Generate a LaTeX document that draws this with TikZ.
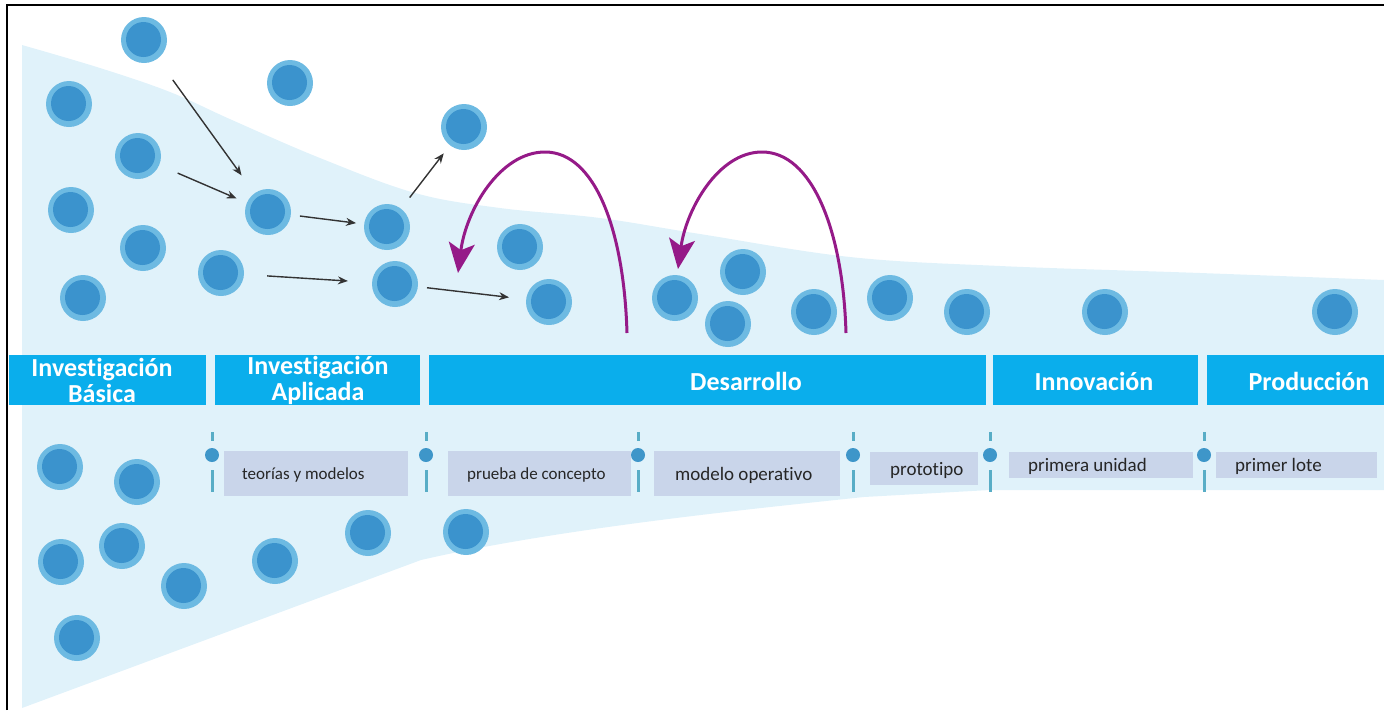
\documentclass[tikz,border=0pt]{standalone}
\usepackage{fontspec}
\setmainfont[Ligatures={NoCommon}]{Carlito}
\usetikzlibrary{arrows.meta}
\definecolor{funnelc}{HTML}{E0F2FA}
\definecolor{bandc}{HTML}{0AAEEC}
\definecolor{subc}{HTML}{C9D5EA}
\definecolor{ballout}{HTML}{6DBAE2}
\definecolor{ballin}{HTML}{3B93CD}
\definecolor{mdotc}{HTML}{3E96C9}
\definecolor{mdashc}{HTML}{58ADC6}
\definecolor{purp}{HTML}{951A88}
\definecolor{arrc}{HTML}{333333}
\begin{document}
\begin{tikzpicture}[x=1pt,y=-1pt,
  ball/.style={circle,minimum size=46pt,inner sep=0pt,fill=ballout,
    path picture={\fill[ballin] ([xshift=-0.5pt,yshift=0.5pt]path picture bounding box.center) circle (17.5pt);}},
  band/.style={rectangle,fill=bandc,inner sep=0pt,minimum height=50pt},
  bandtxt/.style={text=white,font=\fontsize{26}{26}\selectfont\bfseries,align=center,inner sep=0pt},
  subbox/.style={rectangle,fill=subc,inner sep=0pt},
  subtxt/.style={text=black!85,font=\fontsize{19}{21}\selectfont,anchor=west,inner sep=0pt},
  subtxts/.style={subtxt,font=\fontsize{17}{19}\selectfont},
  mdot/.style={circle,fill=mdotc,minimum size=14pt,inner sep=0pt},
  mdash/.style={draw=mdashc,line width=3pt},
  blk/.style={draw=arrc,line width=1.4pt,-{Stealth[length=10pt,width=8pt]}},
  purpa/.style={draw=purp,line width=3pt,-{Stealth[length=30pt,width=26pt,inset=7pt]}}
]
\useasboundingbox (0,0) rectangle (1384,710);
% funnel
\fill[funnelc] plot[smooth,tension=0.6] coordinates {(22,45) (100,68) (170,92) (232,120) (320,158) (415,193) (500,208) (600,218) (700,234) (850,257) (1000,266) (1200,273) (1384,280)}
  -- (1384,490) -- (990,490) -- (864,497)
  .. controls (760,508) and (560,528) .. (421,560) -- (22,708) -- cycle;
% frame
\draw[black,line width=2.5pt] (7,710) -- (7,5) -- (1384,5);
% balls top
\node[ball] (b1) at (144,40) {};
\node[ball] (b2) at (290,83) {};
\node[ball] (b3) at (69,104) {};
\node[ball] (b4) at (138,156) {};
\node[ball] (b5) at (464,127) {};
\node[ball] (b6) at (71,210) {};
\node[ball] (b7) at (268,212) {};
\node[ball] (b8) at (387,227) {};
\node[ball] (b9) at (143,248) {};
\node[ball] (b10) at (221,273) {};
\node[ball] (b11) at (83,298) {};
\node[ball] (b12) at (395,284) {};
\node[ball] (b13) at (520,247) {};
\node[ball] (b14) at (549,302) {};
\node[ball] (b15) at (675,298) {};
\node[ball] (b16) at (743,272) {};
\node[ball] (b17) at (728,324) {};
\node[ball] (b18) at (814,312) {};
\node[ball] (b19) at (890,298) {};
\node[ball] (b20) at (967,312) {};
\node[ball] (b21) at (1105,312) {};
\node[ball] (b22) at (1335,312) {};
% balls bottom
\node[ball] (c1) at (60,467) {};
\node[ball] (c2) at (137,482) {};
\node[ball] (c3) at (122,546) {};
\node[ball] (c4) at (61,562) {};
\node[ball] (c5) at (184,586) {};
\node[ball] (c6) at (275,561) {};
\node[ball] (c7) at (368,533) {};
\node[ball] (c8) at (466,532) {};
\node[ball] (c9) at (77,638) {};
% bands
\node[band,minimum width=197pt] (s1) at (107.5,380) {};
\node[band,minimum width=205pt] (s2) at (317.5,380) {};
\node[band,minimum width=557pt] (s3) at (707.5,380) {};
\node[band,minimum width=205pt] (s4) at (1095.5,380) {};
\node[band,minimum width=204pt] (s5) at (1309,380) {};
\node[bandtxt] (t1) at (102,380) {Investigación\\Básica};
\node[bandtxt] (t2) at (318,380) {Investigación\\Aplicada};
\node[bandtxt] (t3) at (746,381) {Desarrollo};
\node[bandtxt] (t4) at (1094,381) {Innovación};
\node[bandtxt] (t5) at (1309,381) {Producción};
% sub boxes
\node[subbox,minimum width=184pt,minimum height=45pt] (u1) at (316,473.5) {};
\node[subbox,minimum width=183pt,minimum height=45pt] (u2) at (539.5,473.5) {};
\node[subbox,minimum width=186pt,minimum height=45pt] (u3) at (747,473.5) {};
\node[subbox,minimum width=108pt,minimum height=33pt] (u4) at (924,468.5) {};
\node[subbox,minimum width=184pt,minimum height=26pt] (u5) at (1101,465) {};
\node[subbox,minimum width=161pt,minimum height=26pt] (u6) at (1296.5,465) {};
\node[subtxts] (l1) at (242,475) {teorías y modelos};
\node[subtxts] (l2) at (467,475) {prueba de concepto};
\node[subtxt] (l3) at (675,475) {modelo operativo};
\node[subtxt] (l4) at (890,470) {prototipo};
\node[subtxt] (l5) at (1028,466) {primera unidad};
\node[subtxt] (l6) at (1235,466) {primer lote};
% markers
\foreach \i/\x in {1/212,2/426,3/638,4/853,5/990,6/1204}{
  \node[mdot] (m\i) at (\x,455) {};
  \draw[mdash] (\x,432) -- (\x,441);
  \draw[mdash] (\x,470) -- (\x,492);
}
% black arrows
\draw[blk,shorten <=26pt,shorten >=22pt] (b1) -- (b7);
\draw[blk,shorten <=20pt,shorten >=11pt] (b4) -- (b7);
\draw[blk,shorten <=9pt,shorten >=8pt] (b7) -- (b8);
\draw[blk,shorten <=23pt,shorten >=24pt] (b10) -- (b12);
\draw[blk,shorten <=14pt,shorten >=10pt] (b8) -- (b5);
\draw[blk,shorten <=9pt,shorten >=17pt] (b12) -- (b14);
% purple arcs
\coordinate (p1s) at (627,333);
\coordinate (p1e) at (458,273);
\coordinate (p2s) at (846,333);
\coordinate (p2e) at (678,269);
\draw[purpa] (p1s) .. controls (624,230) and (595,152) .. (545,152) .. controls (500,152) and (466,210) .. (p1e);
\draw[purpa] (p2s) .. controls (843,230) and (812,152) .. (762,152) .. controls (718,152) and (686,210) .. (p2e);
\end{tikzpicture}
\end{document}
